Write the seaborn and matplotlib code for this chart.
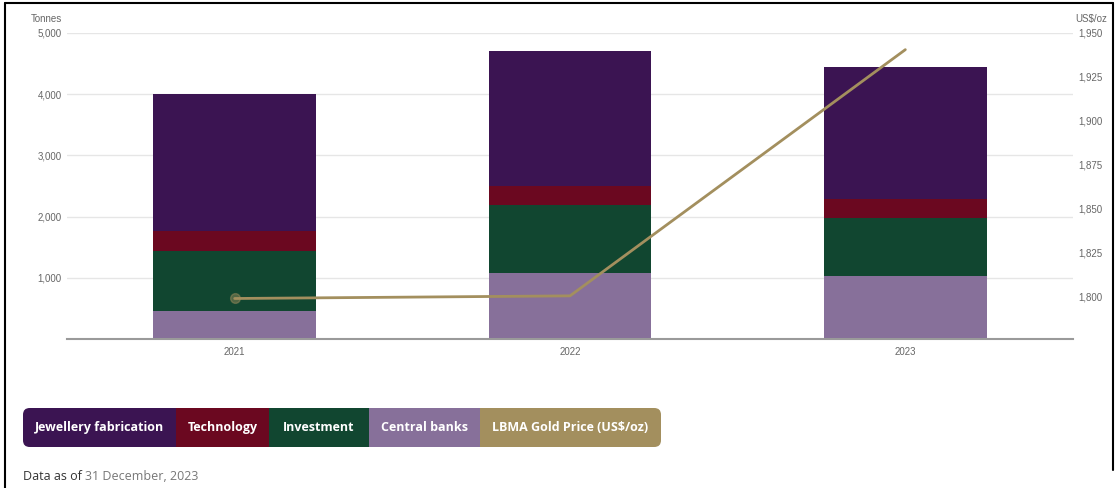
import numpy as np
import pandas as pd
import matplotlib
matplotlib.use("Agg")
import matplotlib.pyplot as plt
from matplotlib.patches import Rectangle, FancyBboxPatch
from matplotlib.lines import Line2D
import seaborn as sns

# data
years = ["2021", "2022", "2023"]
jewellery = [2235, 2200, 2156]
technology = [327, 310, 305]
investment = [990, 1110, 945]
central_banks = [450, 1082, 1037]
gold_price = [1798.6, 1800.1, 1940.5]

series_names = ["Jewellery fabrication", "Technology", "Investment", "Central banks"]
legend_labels = series_names + ["LBMA Gold Price (US$/oz)"]
colors = ["#3b1452", "#6b0820", "#114630", "#87709a", "#a38f5e"]
left_ticks = [0, 1000, 2000, 3000, 4000, 5000]
right_ticks = [1800, 1825, 1850, 1875, 1900, 1925, 1950]

W, H = 1117, 488


def fx(px):
    return px / W


def fy(py):
    return 1 - py / H


sns.set_theme(style="white")
plt.rcParams["font.family"] = ["Liberation Sans", "DejaVu Sans"]

fig = plt.figure(figsize=(W / 100, H / 100), dpi=100)
ax = fig.add_axes([fx(67), fy(339), fx(1073) - fx(67), fy(33) - fy(339)])

df = pd.DataFrame({
    "year": years,
    "Central banks": central_banks,
    "Investment": investment,
    "Technology": technology,
    "Jewellery fabrication": jewellery,
})

# stacked bars: draw cumulative totals from top layer down
stack_order = ["Central banks", "Investment", "Technology", "Jewellery fabrication"]
cum = df[stack_order].cumsum(axis=1)
for name in reversed(stack_order):
    sns.barplot(x=df["year"], y=cum[name], color=colors[series_names.index(name)],
                width=0.485, saturation=1, linewidth=0, ax=ax, zorder=2)

ax.set_ylim(0, 5000)
ax.set_xlim(-0.5, 2.5)
ax.set_yticks(left_ticks)
ax.set_yticklabels(["" if v == 0 else f"{v:,}" for v in left_ticks])
ax.grid(axis="y", color="#e6e6e6", lw=1)
ax.set_axisbelow(True)
ax.set_xlabel("")
ax.set_ylabel("")
for s in ["top", "right", "left"]:
    ax.spines[s].set_visible(False)
ax.spines["bottom"].set_color("#9a9a9a")
ax.spines["bottom"].set_linewidth(1.5)
ax.tick_params(axis="both", length=0, labelsize=7, colors="#666666")
ax.tick_params(axis="x", pad=6)
ax.tick_params(axis="y", pad=4)

# gold price line on the right axis
ax2 = ax.twinx()
sns.lineplot(x=np.arange(len(years)), y=gold_price, color=colors[4], lw=2, ax=ax2)
ax2.plot([0], [gold_price[0]], "o", ms=7, color=colors[4], alpha=0.45)
ax2.set_ylim(1775.5, 1950)
ax2.set_yticks(right_ticks)
ax2.set_yticklabels([f"{v:,}" for v in right_ticks])
ax2.grid(False)
for s in ax2.spines.values():
    s.set_visible(False)
ax2.tick_params(axis="y", length=0, labelsize=7, colors="#666666", pad=4)
ax2.set_ylabel("")

fig.text(fx(62), fy(19), "Tonnes", ha="right", va="center", fontsize=7, color="#666666")
fig.text(fx(1075), fy(19), "US$/oz", ha="left", va="center", fontsize=7, color="#666666")

# legend strip
edges = [23, 176, 269, 369, 480, 661]
y0, y1 = 408, 447
for i, lab in enumerate(legend_labels):
    x0, x1 = edges[i], edges[i + 1]
    if i == 0 or i == len(legend_labels) - 1:
        fig.patches.append(FancyBboxPatch((fx(x0), fy(y1)), fx(x1 - x0), fy(y0) - fy(y1),
                                          boxstyle="round,pad=0,rounding_size=0.006",
                                          transform=fig.transFigure, fc=colors[i], ec="none",
                                          mutation_aspect=W / H))
        rx = x0 + (x1 - x0) / 2 if i == 0 else x0
        fig.patches.append(Rectangle((fx(rx), fy(y1)), fx((x1 - x0) / 2), fy(y0) - fy(y1),
                                     transform=fig.transFigure, fc=colors[i], ec="none"))
    else:
        fig.patches.append(Rectangle((fx(x0), fy(y1)), fx(x1 - x0), fy(y0) - fy(y1),
                                     transform=fig.transFigure, fc=colors[i], ec="none"))
    fig.text(fx((x0 + x1) / 2), fy((y0 + y1) / 2), lab, ha="center", va="center",
             fontsize=9, color="white", fontweight="bold", family=["Open Sans", "DejaVu Sans"])

t = fig.text(fx(23), fy(476), "Data as of ", ha="left", va="center", fontsize=9,
             color="#333333", family=["Open Sans", "DejaVu Sans"])
fig.canvas.draw()
bb = t.get_window_extent()
fig.text(bb.x1 / W, fy(476), "31 December, 2023", ha="left", va="center", fontsize=9,
         color="#777777", family=["Open Sans", "DejaVu Sans"])

# frame around the screenshot
frame = dict(color="black", lw=1.5, transform=fig.transFigure)
fig.lines.append(Line2D([fx(5), fx(5)], [0, fy(3)], **frame))
fig.lines.append(Line2D([fx(5), fx(1113)], [fy(3), fy(3)], **frame))
fig.lines.append(Line2D([fx(1113), fx(1113)], [fy(3), fy(470)], **frame))

fig.savefig("out.png", dpi=100)
